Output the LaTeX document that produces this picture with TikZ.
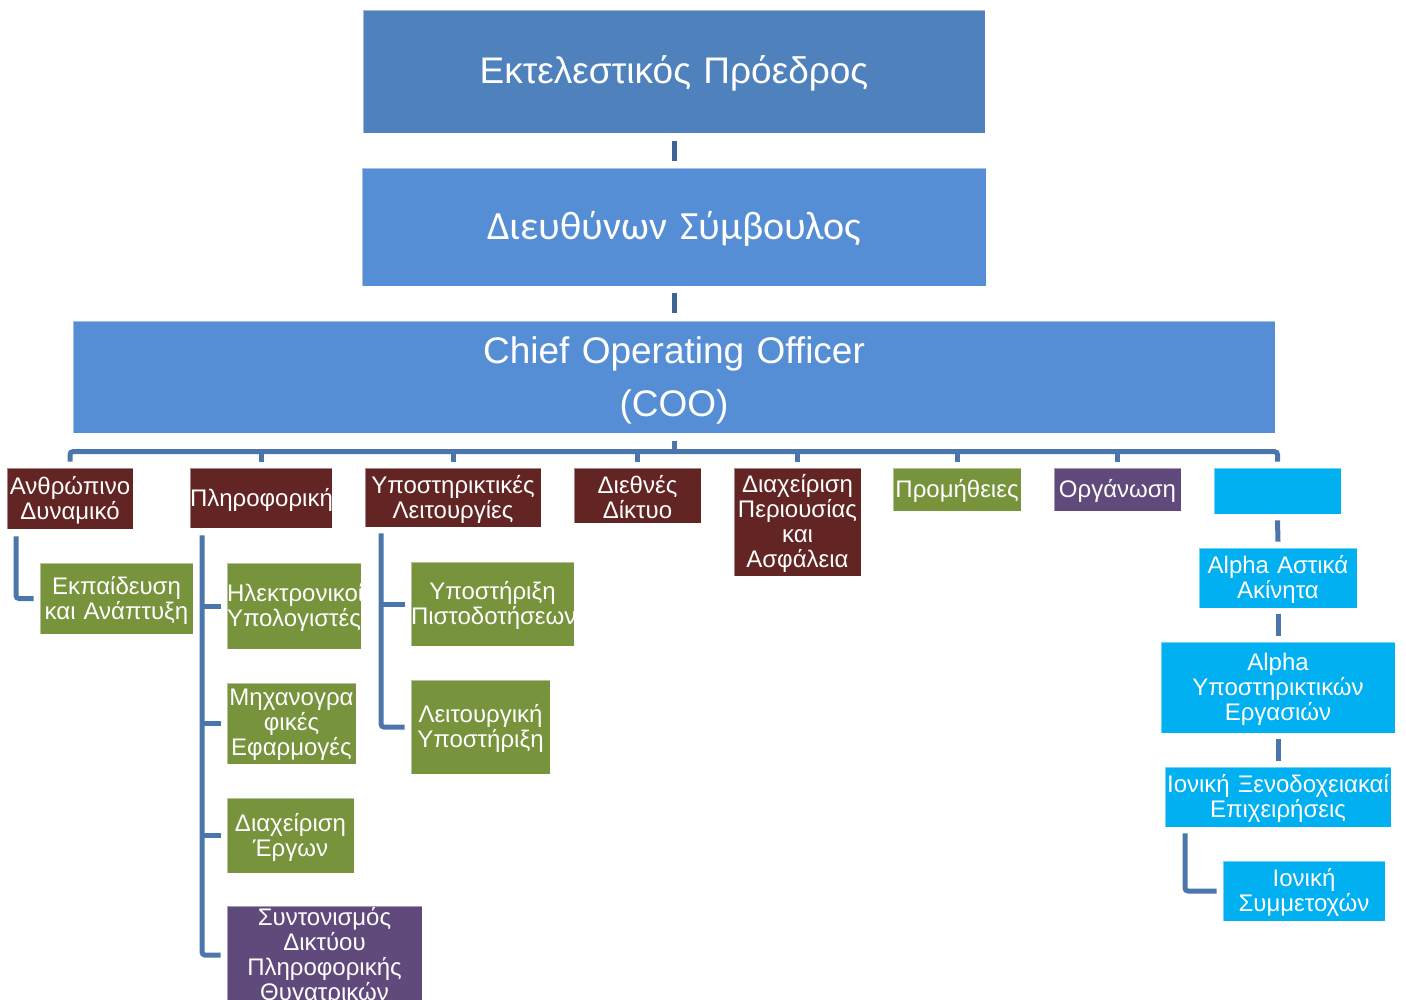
\documentclass[tikz,border=0pt]{standalone}
\usepackage{fontspec}
\setmainfont{Liberation Sans}
\newfontfamily\calfont{Carlito}
\definecolor{ceoblue}{HTML}{4F81BD}
\definecolor{midblue}{HTML}{558ED5}
\definecolor{brn}{HTML}{632523}
\definecolor{grn}{HTML}{77933C}
\definecolor{prp}{HTML}{604A7B}
\definecolor{cyn}{HTML}{00B0F0}
\definecolor{connc}{RGB}{74,118,172}
\definecolor{topconnc}{RGB}{62,100,150}
% lower a line of text without changing the space it takes
\newcommand\lowered[2]{\raisebox{-#1}[\height][\depth]{#2}}
\newcommand\dline[1]{\lowered{1.5pt}{#1}}
\begin{document}
\begin{tikzpicture}[x=1pt,y=1pt,
  box/.style={inner sep=0pt, text=white, align=center, draw=white, draw opacity=0.45, line width=0.8pt},
  small/.style={box, font=\fontsize{24}{25}\selectfont},
  conn/.style={draw=connc, line width=5pt},
  topconn/.style={draw=topconnc, line width=5pt},
  elbow/.style={conn, rounded corners=3pt}]
\useasboundingbox (0,0) rectangle (1406,-1000);

% executive levels
\node[box, fill=ceoblue, text width=622pt, minimum height=123pt,
  font=\fontsize{37}{44}\selectfont] (ceo) at (674,-71.5) {\lowered{2pt}{Εκτελεστικός Πρόεδρος}};
\node[box, fill=midblue, text width=624pt, minimum height=118pt,
  font=\calfont\fontsize{40}{48}\selectfont] (ds) at (674,-227) {\lowered{2pt}{Διευθύνων Σύμβουλος}};
\node[box, fill=midblue, text width=1202pt, minimum height=112pt,
  font=\fontsize{37}{53}\selectfont] (coo) at (674,-377) {\lowered{3pt}{Chief Operating Officer}\\\lowered{3pt}{(COO)}};

% divisions
\node[small, fill=brn, text width=126pt, minimum height=61pt] (hr) at (70,-498.5) {\dline{Ανθρώπινο}\\\dline{Δυναμικό}};
\node[small, fill=brn, text width=142pt, minimum height=60pt] (it) at (261,-498) {\dline{Πληροφορική}};
\node[small, fill=brn, text width=176pt, minimum height=59pt] (sup) at (453,-497.5) {\dline{Υποστηρικτικές}\\\dline{Λειτουργίες}};
\node[small, fill=brn, text width=127pt, minimum height=55pt] (net) at (637.5,-495.5) {\dline{Διεθνές}\\\dline{Δίκτυο}};
\node[small, fill=brn, text width=127pt, minimum height=108pt] (prop) at (797.5,-522) {\dline{Διαχείριση}\\\dline{Περιουσίας}\\\dline{και}\\\dline{Ασφάλεια}};
\node[small, fill=grn, text width=128pt, minimum height=43pt] (proc) at (957,-489.5) {\dline{Προμήθειες}};
\node[small, fill=prp, text width=127pt, minimum height=43pt] (org) at (1117.5,-489.5) {\dline{Οργάνωση}};
\node[small, fill=cyn, text width=127pt, minimum height=46pt] (cy0) at (1277.5,-491) {};

% units
\node[small, fill=grn, text width=153pt, minimum height=71pt] (edu) at (116.5,-598.5) {\dline{Εκπαίδευση}\\\dline{και Ανάπτυξη}};
\node[small, fill=grn, text width=134pt, minimum height=86pt] (pc) at (294,-606) {\dline{Ηλεκτρονικοί}\\\dline{Υπολογιστές}};
\node[small, fill=grn, text width=129pt, minimum height=81pt] (apps) at (291.5,-723.5) {\dline{Μηχανογρα}\\\dline{φικές}\\\dline{Εφαρμογές}};
\node[small, fill=grn, text width=127pt, minimum height=75pt] (pm) at (290.5,-835.5) {\dline{Διαχείριση}\\\dline{Έργων}};
\node[small, fill=prp, text width=195pt, minimum height=96pt] (coord) at (324.5,-955) {\dline{Συντονισμός}\\\dline{Δικτύου}\\\dline{Πληροφορικής}\\\dline{Θυγατρικών}};
\node[small, fill=grn, text width=163pt, minimum height=84pt] (credit) at (492.5,-604) {\dline{Υποστήριξη}\\\dline{Πιστοδοτήσεων}};
\node[small, fill=grn, text width=139pt, minimum height=94pt] (ops) at (480.5,-727) {\dline{Λειτουργική}\\\dline{Υποστήριξη}};

% subsidiaries
\node[small, fill=cyn, text width=158pt, minimum height=60pt] (urban) at (1278,-578) {\dline{Alpha Αστικά}\\\dline{Ακίνητα}};
\node[small, fill=cyn, text width=234pt, minimum height=91pt] (asup) at (1278,-687.5) {\dline{Alpha}\\\dline{Υποστηρικτικών}\\\dline{Εργασιών}};
\node[small, fill=cyn, text width=226pt, minimum height=60pt] (hotel) at (1278,-797) {\dline{Ιονική Ξενοδοχειακαί}\\\dline{Επιχειρήσεις}};
\node[small, fill=cyn, text width=162pt, minimum height=60pt] (part) at (1304,-891) {\dline{Ιονική}\\\dline{Συμμετοχών}};

% top chain
\draw[topconn] ([yshift=-8pt]ceo.south) -- ([yshift=7pt]ds.north);
\draw[topconn] ([yshift=-7pt]ds.south) -- ([yshift=8pt]coo.north);

% bus under the COO
\draw[conn] ([yshift=-8pt]coo.south) -- ++(0,-11);
\draw[elbow] ([yshift=6pt]hr.north) -- ++(0,10) -| ([yshift=6pt]cy0.north);
\foreach \n in {it,sup,net,prop,proc,org}
  \draw[conn] ([yshift=6pt]\n.north) -- ++(0,10);

% human resources
\draw[elbow] ([xshift=-54pt,yshift=-7pt]hr.south) |- ([xshift=-6pt]edu.west);

% information technology
\coordinate (itbar) at ([xshift=-59pt,yshift=-7pt]it.south);
\draw[elbow] (itbar) |- ([xshift=-6pt]coord.west);
\foreach \n in {pc,apps,pm}
  \draw[conn] (itbar |- \n.west) -- ([xshift=-6pt]\n.west);

% support functions
\coordinate (supbar) at ([xshift=-72pt,yshift=-6pt]sup.south);
\draw[elbow] (supbar) |- ([xshift=-6pt]ops.west);
\draw[conn] (supbar |- credit.west) -- ([xshift=-6pt]credit.west);

% subsidiaries chain
\draw[conn] ([yshift=-6pt]cy0.south) -- ([yshift=6pt]urban.north);
\draw[conn] ([yshift=-6pt]urban.south) -- ([yshift=6pt]asup.north);
\draw[conn] ([yshift=-6pt]asup.south) -- ([yshift=6pt]hotel.north);
\draw[elbow] ([xshift=-93pt,yshift=-6pt]hotel.south) |- ([xshift=-6pt]part.west);
\end{tikzpicture}
\end{document}
